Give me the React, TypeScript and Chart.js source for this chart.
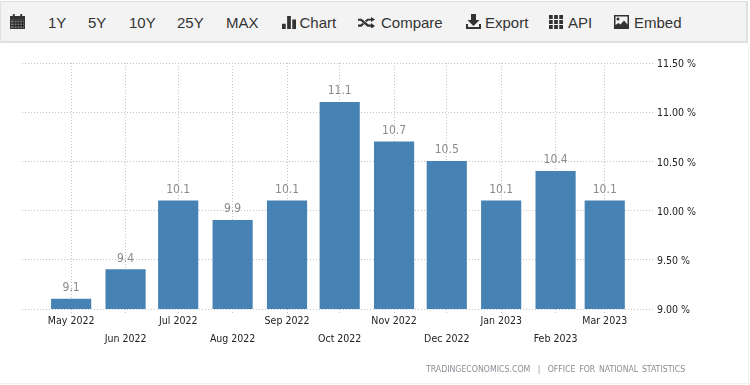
import React, { useEffect, useRef } from "react";
import { Chart, registerables } from "chart.js";

Chart.register(...registerables);

const categories = ["May 2022", "Jun 2022", "Jul 2022", "Aug 2022", "Sep 2022", "Oct 2022", "Nov 2022", "Dec 2022", "Jan 2023", "Feb 2023", "Mar 2023"];
const dayOffsets = [0, 31, 61, 92, 123, 153, 184, 214, 245, 276, 304];
const values = [9.1, 9.4, 10.1, 9.9, 10.1, 11.1, 10.7, 10.5, 10.1, 10.4, 10.1];
const yTicks = [9, 9.5, 10, 10.5, 11, 11.5];
const menuItems = [
  { label: "1Y", x: 48 },
  { label: "5Y", x: 88 },
  { label: "10Y", x: 129 },
  { label: "25Y", x: 177 },
  { label: "MAX", x: 226 },
  { label: "Chart", x: 299.5 },
  { label: "Compare", x: 381 },
  { label: "Export", x: 485 },
  { label: "API", x: 568 },
  { label: "Embed", x: 634 },
];
const tickFont = "'DejaVu Sans Condensed', 'DejaVu Sans', sans-serif";

const valueLabels = {
  id: "valueLabels",
  afterDatasetsDraw(chart: any) {
    const { ctx } = chart;
    const meta = chart.getDatasetMeta(0);
    ctx.save();
    ctx.font = `12px ${tickFont}`;
    ctx.fillStyle = "#8a8a8a";
    ctx.textAlign = "center";
    ctx.textBaseline = "alphabetic";
    meta.data.forEach((bar: any, i: number) => {
      ctx.fillText(values[i].toFixed(1), bar.x, bar.y - 8);
    });
    ctx.restore();
  },
};

const ic = { position: "absolute", top: 0, fill: "#333" } as const;

function Icons() {
  return (
    <>
      <svg width="15" height="15" viewBox="0 0 16 16" style={{ ...ic, left: 10, top: 14 }}>
        <path d="M0 2h3V0h2v2h6V0h2v2h3v14H0z" />
        <path d="M1 6h14v9H1z" fill="#777" />
        <path d="M1 6h14v1H1zM1 9h14v1H1zM1 12h14v1H1zM4 6h1v9H4zM7 6h1v9H7zM10 6h1v9h-1zM13 6h1v9h-1z" fill="#222" />
      </svg>
      <svg width="14" height="13" viewBox="0 0 15 15" preserveAspectRatio="none" style={{ ...ic, left: 282, top: 16 }}>
        <path d="M0 9h4v6H0zM5.500 0h4v15h-4zM11 4h4v11h-4z" />
      </svg>
      <svg width="17" height="11" viewBox="0 0 17 13" preserveAspectRatio="none" style={{ ...ic, left: 358, top: 17 }}>
        <path d="M0 2h3.500l7 7H13V7l4 3.500-4 3.500V11.500H9.500l-7-7H0zM0 9h2.500l2-2 1.700 1.700L3.500 11.500H0zM9.500 2H13V0l4 3-4 3V4h-2.500l-2 2-1.700-1.700z" />
      </svg>
      <svg width="15" height="15" viewBox="0 0 15 15" style={{ ...ic, left: 466, top: 14 }}>
        <path d="M5 0h5v6h3.500L7.500 12 1.500 6H5z" />
        <path d="M0 10h2v3h11v-3h2v5H0z" />
      </svg>
      <svg width="14" height="14" viewBox="0 0 15 14" preserveAspectRatio="none" style={{ ...ic, left: 549, top: 15 }}>
        <path d="M0 0h4v4H0zM5.500 0h4v4h-4zM11 0h4v4h-4zM0 5h4v4H0zM5.500 5h4v4h-4zM11 5h4v4h-4zM0 10h4v4H0zM5.500 10h4v4h-4zM11 10h4v4h-4z" />
      </svg>
      <svg width="15" height="14" viewBox="0 0 15 14" style={{ ...ic, left: 614, top: 15 }}>
        <path d="M0 0h15v14H0z" />
        <path d="M1.500 1.500h12v8L10 5.500 6.500 9.500 4.500 8l-3 2z" fill="#f3f3f3" />
        <circle cx="4" cy="4" r="1.500" />
      </svg>
    </>
  );
}

export default function App() {
  const ref = useRef<HTMLCanvasElement>(null);

  useEffect(() => {
    document.body.style.margin = "0";
    const chart = new Chart(ref.current!, {
      type: "bar",
      data: {
        datasets: [
          {
            data: dayOffsets.map((d, i) => ({ x: d, y: values[i] })),
            backgroundColor: "#4682b4",
            barThickness: 39.5,
          },
        ],
      },
      plugins: [valueLabels],
      options: {
        animation: false,
        responsive: false,
        layout: { padding: { left: 22, top: 63, right: 0, bottom: 0 } },
        plugins: { legend: { display: false }, tooltip: { enabled: false } },
        scales: {
          x: {
            type: "linear",
            offset: false,
            min: -28,
            max: 331.5,
            afterBuildTicks(scale: any) {
              scale.ticks = dayOffsets.map((value) => ({ value }));
            },
            afterFit(scale: any) {
              scale.height = 76;
            },
            border: { display: false, dash: [1, 2] },
            grid: {
              offset: false,
              color: "#c4c4c4",
              lineWidth: 1,
              tickLength: 4,
              tickColor: "#c4c4c4",
              tickBorderDash: [1, 2],
            },
            ticks: {
              autoSkip: false,
              maxRotation: 0,
              minRotation: 0,
              padding: -1,
              color: "#222",
              font: { family: tickFont, size: 10.5, lineHeight: 1.7 },
              callback(value: any) {
                const i = dayOffsets.indexOf(value);
                return i % 2 === 0 ? categories[i] : ["", categories[i]];
              },
            },
          },
          y: {
            position: "right",
            min: 9,
            max: 11.5,
            afterBuildTicks(scale: any) {
              scale.ticks = yTicks.map((value) => ({ value }));
            },
            afterFit(scale: any) {
              scale.width = 97;
            },
            border: { display: false, dash: [1, 2] },
            grid: { color: "#c4c4c4", lineWidth: 1, drawTicks: false },
            ticks: {
              padding: 4,
              labelOffset: 1.5,
              color: "#222",
              font: { family: tickFont, size: 10.5 },
              callback: (v: any) => `${Number(v).toFixed(2)} %`,
            },
          },
        },
      },
    } as any);
    return () => chart.destroy();
  }, []);

  return (
    <div style={{ position: "relative", width: 750, height: 385, overflow: "hidden", background: "#fff" }}>
      <canvas ref={ref} width={750} height={385} style={{ position: "absolute", left: 0, top: 0, display: "block" }} />
      <div style={{ position: "absolute", left: 0, top: 383, width: 750, height: 1, background: "#f2f2f2" }} />
      <div style={{ position: "absolute", left: 748, top: 44, width: 1, height: 340, background: "#f2f2f2" }} />
      <div
        style={{
          position: "absolute",
          left: 0,
          top: 1,
          width: 745,
          height: 39,
          background: "#f3f3f3",
          borderStyle: "solid",
          borderColor: "#e0e0e0",
          borderWidth: "1px 2px 2px 1px",
        }}
      />
      <div style={{ position: "absolute", left: 0, top: 0, width: 750, height: 44 }}>
        <Icons />
        {menuItems.map((m) => (
          <span
            key={m.label}
            style={{
              position: "absolute",
              left: m.x,
              top: 14,
              font: "15px/18px 'Liberation Sans', Arial, sans-serif",
              color: "#333",
              whiteSpace: "nowrap",
            }}
          >
            {m.label}
          </span>
        ))}
      </div>
      <div
        style={{
          position: "absolute",
          left: 426,
          top: 363,
          font: `8.7px/12px ${tickFont}`,
          wordSpacing: 1.2,
          color: "#8a8f96",
          whiteSpace: "pre",
        }}
      >
        TRADINGECONOMICS.COM  |  OFFICE FOR NATIONAL STATISTICS
      </div>
    </div>
  );
}
